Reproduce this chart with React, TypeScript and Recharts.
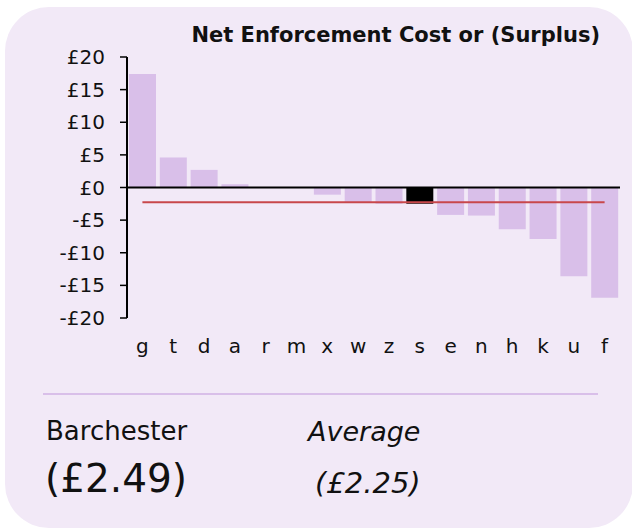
import { BarChart, Bar, XAxis, YAxis, ReferenceLine, Cell } from 'recharts';

const categories = ['g', 't', 'd', 'a', 'r', 'm', 'x', 'w', 'z', 's', 'e', 'n', 'h', 'k', 'u', 'f'];
const costs = [17.4, 4.6, 2.7, 0.5, 0, 0, -1.1, -2.3, -2.5, -2.49, -4.2, -4.3, -6.4, -7.9, -13.6, -16.9];
const yTicks = [20, 15, 10, 5, 0, -5, -10, -15, -20];
const highlight = 's';
const averageCost = -2.25;
const localCost = -2.49;

const BAR = '#d9bfe9';
const CARD = '#f2e9f7';
const FONT = '"DejaVu Sans", Verdana, sans-serif';

const chartData = categories.map((c, i) => ({ name: c, cost: costs[i] }));

const money = (v: number) => (v < 0 ? `-£${Math.abs(v)}` : `£${v}`);
const bracketed = (v: number) => (v < 0 ? `(£${Math.abs(v).toFixed(2)})` : `£${v.toFixed(2)}`);

export default function App() {
  return (
    <div style={{ position: 'fixed', left: 0, top: 0, width: 632, height: 530, background: '#fff', fontFamily: FONT }}>
      <div
        style={{
          position: 'absolute', left: 5, top: 7, width: 628, height: 521,
          background: CARD, borderRadius: 44,
        }}
      />
      <div
        style={{
          position: 'absolute', right: 32, top: 25, fontSize: 21, fontWeight: 'bold',
          color: '#111', lineHeight: 1,
        }}
      >
        Net Enforcement Cost or (Surplus)
      </div>

      <div style={{ position: 'absolute', left: 0, top: 0 }}>
        <BarChart
          width={632}
          height={380}
          data={chartData}
          margin={{ top: 57, right: 12, left: 0, bottom: 22 }}
          barCategoryGap={2}
        >
          <XAxis
            dataKey="name"
            axisLine={false}
            tickLine={false}
            height={40}
            tickMargin={15}
            interval={0}
            tick={{ fill: '#111', fontSize: 20, fontFamily: FONT }}
          />
          <YAxis
            width={127}
            domain={[-20, 20]}
            ticks={yTicks}
            interval={0}
            tickFormatter={money}
            axisLine={{ stroke: '#000', strokeWidth: 2 }}
            tickLine={{ stroke: '#000', strokeWidth: 1.5 }}
            tickSize={7}
            tickMargin={15}
            tick={{ fill: '#111', fontSize: 20, fontFamily: FONT }}
          />
          <Bar dataKey="cost" isAnimationActive={false}>
            {chartData.map((d) => (
              <Cell key={d.name} fill={d.name === highlight ? '#000' : BAR} />
            ))}
          </Bar>
          <ReferenceLine y={0} stroke="#000" strokeWidth={2} />
          <ReferenceLine
            segment={[
              { x: categories[0], y: averageCost },
              { x: categories[categories.length - 1], y: averageCost },
            ]}
            stroke="#c8474b"
            strokeWidth={2}
          />
        </BarChart>
      </div>

      <div style={{ position: 'absolute', left: 43, top: 393, width: 555, height: 2, background: BAR }} />

      <div style={{ position: 'absolute', left: 46, top: 418, fontSize: 26, lineHeight: 1, color: '#111' }}>
        Barchester
      </div>
      <div style={{ position: 'absolute', left: 45, top: 459, fontSize: 39, lineHeight: 1, color: '#111' }}>
        {bracketed(localCost)}
      </div>
      <div style={{ position: 'absolute', left: 308, top: 418, fontSize: 27, lineHeight: 1, fontStyle: 'italic', color: '#111' }}>
        Average
      </div>
      <div style={{ position: 'absolute', left: 315, top: 469, fontSize: 29, lineHeight: 1, fontStyle: 'italic', color: '#111' }}>
        {bracketed(averageCost)}
      </div>
    </div>
  );
}
